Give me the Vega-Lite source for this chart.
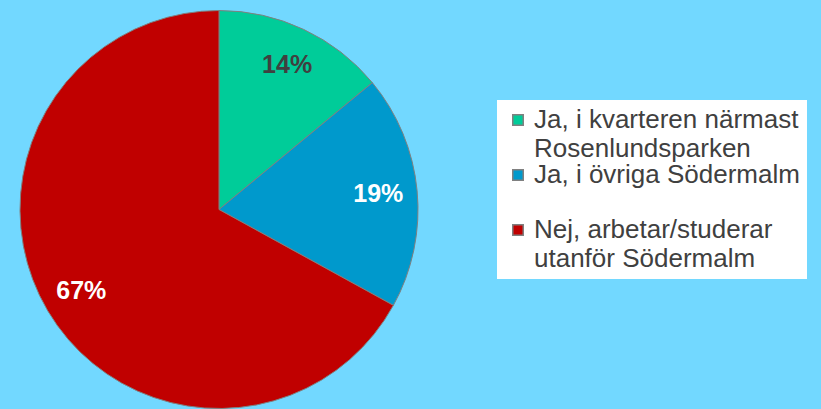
{
  "$schema": "https://vega.github.io/schema/vega-lite/v6.json",
  "width": 438,
  "height": 399,
  "autosize": {"type": "none"},
  "padding": {"left": 0, "top": 10, "right": 383, "bottom": 0},
  "background": "#72D8FF",
  "config": {
    "view": {"stroke": null},
    "style": {"guide-label": {"lineHeight": 28.5}}
  },
  "data": {
    "values": [
      {"category": "Ja, i kvarteren närmast Rosenlundsparken", "value": 14, "label": "14%"},
      {"category": "Ja, i övriga Södermalm", "value": 19, "label": "19%"},
      {"category": "Nej, arbetar/studerar utanför Södermalm", "value": 67, "label": "67%"}
    ]
  },
  "encoding": {
    "theta": {"field": "value", "type": "quantitative", "stack": true}
  },
  "layer": [
    {
      "mark": {"type": "arc", "outerRadius": 199, "stroke": "#808080", "strokeWidth": 1},
      "encoding": {
        "color": {
          "field": "category",
          "type": "nominal",
          "sort": null,
          "scale": {
            "domain": ["Ja, i kvarteren närmast Rosenlundsparken", "Ja, i övriga Södermalm", "Nej, arbetar/studerar utanför Södermalm"],
            "range": ["#00CC99", "#0099CC", "#C00000"]
          },
          "legend": {
            "title": null,
            "orient": "none",
            "legendX": 497,
            "legendY": 90,
            "fillColor": "white",
            "padding": 7,
            "symbolType": "square",
            "symbolSize": 110,
            "symbolStrokeColor": "#808080",
            "symbolStrokeWidth": 1.5,
            "symbolOffset": 1,
            "labelFont": "Liberation Sans",
            "labelFontSize": 26,
            "labelColor": "#404040",
            "labelLimit": 400,
            "labelOffset": 3,
            "rowPadding": 0,
            "labelExpr": "datum.label == 'Ja, i kvarteren närmast Rosenlundsparken' ? ['Ja, i kvarteren närmast', 'Rosenlundsparken'] : datum.label == 'Ja, i övriga Södermalm' ? ['Ja, i övriga Södermalm', ' '] : ['Nej, arbetar/studerar', 'utanför Södermalm']"
          }
        }
      }
    },
    {
      "mark": {"type": "text", "radius": 160, "font": "Liberation Sans", "fontSize": 25, "fontWeight": "bold"},
      "encoding": {
        "detail": {"field": "category", "type": "nominal", "sort": null},
        "text": {"field": "label", "type": "nominal"},
        "color": {
          "condition": {"test": "datum.category == 'Ja, i kvarteren närmast Rosenlundsparken'", "value": "#404040"},
          "value": "white"
        }
      }
    }
  ]
}
